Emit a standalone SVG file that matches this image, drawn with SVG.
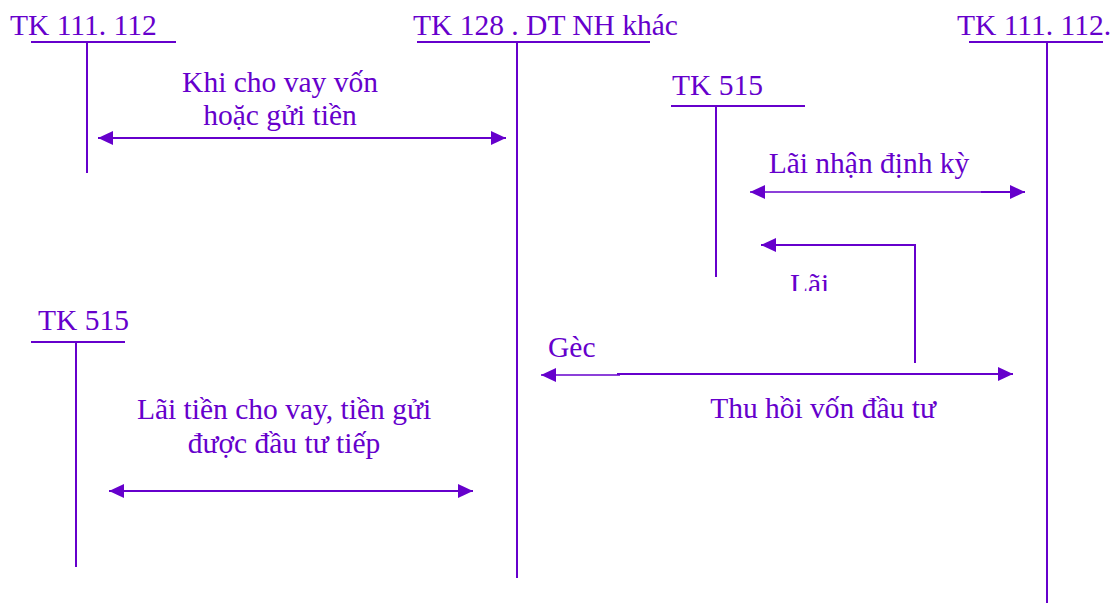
<svg xmlns="http://www.w3.org/2000/svg" width="1116" height="603" viewBox="0 0 1116 603">
  <style>
    text { font-family: "Liberation Serif", "Times New Roman", serif; font-size: 29.5px; fill: #6600cc; }
    .mid { text-anchor: middle; }
    .acct { stroke: #6600cc; stroke-width: 2; fill: none; }
    .flow { stroke: #6600cc; stroke-width: 2; fill: none; }
    .thin { stroke: #6600cc; stroke-width: 1.3; fill: none; }
  </style>
  <defs>
    <marker id="arrow" viewBox="0 0 15 14" refX="15" refY="7" markerWidth="15" markerHeight="14" markerUnits="userSpaceOnUse" orient="auto-start-reverse">
      <path d="M0,0 L15,7 L0,14 Z" fill="#6600cc"/>
    </marker>
    <clipPath id="cutLai">
      <rect x="700" y="240" width="200" height="51"/>
    </clipPath>
  </defs>
  <rect width="1116" height="603" fill="#ffffff"/>

  <!-- T-accounts -->
  <g id="tk111-left">
    <text x="10" y="35">TK 111. 112</text>
    <line class="acct" x1="31" y1="42" x2="176" y2="42"/>
    <line class="acct" x1="87" y1="42" x2="87" y2="173"/>
  </g>
  <g id="tk128">
    <text x="413" y="35">TK 128 . DT NH khác</text>
    <line class="acct" x1="417" y1="42" x2="650" y2="42"/>
    <line class="acct" x1="517" y1="42" x2="517" y2="578"/>
  </g>
  <g id="tk111-right">
    <text x="957" y="35">TK 111. 112.</text>
    <line class="acct" x1="969" y1="42" x2="1103" y2="42"/>
    <line class="acct" x1="1047" y1="42" x2="1047" y2="603"/>
  </g>
  <g id="tk515-right">
    <text x="672" y="95">TK 515</text>
    <line class="acct" x1="671" y1="106" x2="805" y2="106"/>
    <line class="acct" x1="716" y1="106" x2="716" y2="277"/>
  </g>
  <g id="tk515-left">
    <text x="38" y="330">TK 515</text>
    <line class="acct" x1="31" y1="342" x2="125" y2="342"/>
    <line class="acct" x1="76" y1="342" x2="76" y2="567"/>
  </g>

  <!-- Connectors -->
  <g id="connectors">
    <path class="flow" d="M98,138 H506" marker-start="url(#arrow)" marker-end="url(#arrow)"/>
    <path class="thin" d="M750,192 H1000" marker-start="url(#arrow)"/>
    <path class="flow" d="M981,192 H1025" marker-end="url(#arrow)"/>
    <path class="flow" d="M915,363 V245 H761" marker-end="url(#arrow)"/>
    <path class="thin" d="M541,375 H620" marker-start="url(#arrow)"/>
    <path class="flow" d="M617,374 H1013" marker-end="url(#arrow)"/>
    <path class="flow" d="M109,491 H473" marker-start="url(#arrow)" marker-end="url(#arrow)"/>
  </g>

  <!-- Labels -->
  <g id="labels">
    <text class="mid" x="280" y="92">Khi cho vay vốn</text>
    <text class="mid" x="280" y="125">hoặc gửi tiền</text>
    <text class="mid" x="869" y="173">Lãi nhận định kỳ</text>
    <text x="790" y="294" clip-path="url(#cutLai)">Lãi</text>
    <text x="548" y="357">Gèc</text>
    <text class="mid" x="823" y="418">Thu hồi vốn đầu tư</text>
    <text class="mid" x="284" y="419">Lãi tiền cho vay, tiền gửi</text>
    <text class="mid" x="284" y="453">được đầu tư tiếp</text>
  </g>
</svg>
